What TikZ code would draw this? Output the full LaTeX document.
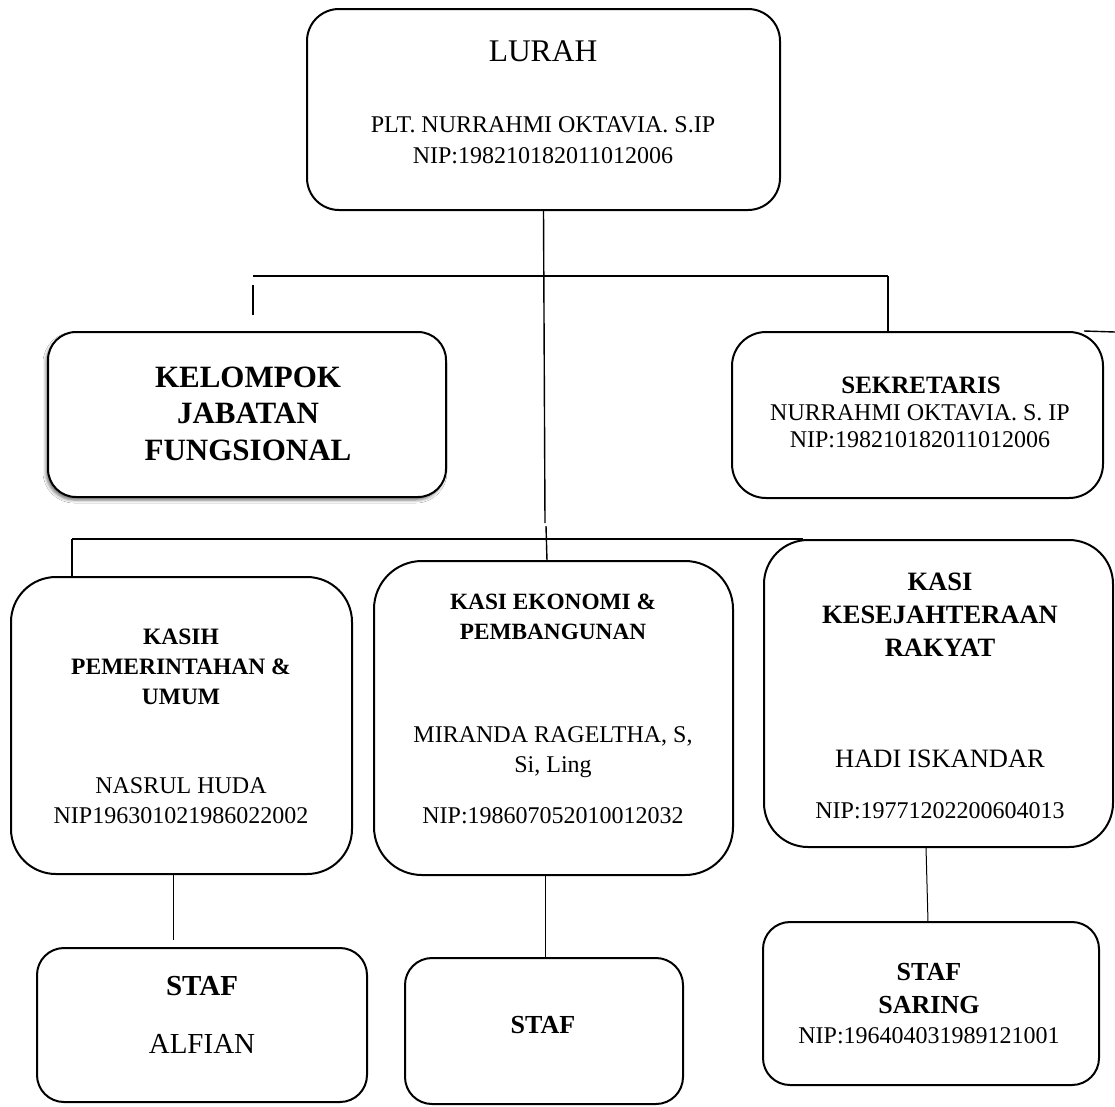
\documentclass[tikz,border=0pt]{standalone}
\usepackage{fontspec}
\setmainfont{Liberation Serif}
\usetikzlibrary{shadows,shadows.blur,calc}
\newcommand\myfs[1]{\fontsize{#1pt}{#1pt}\selectfont}
\begin{document}
\begin{tikzpicture}[x=1pt,y=-1pt,
  box/.style={draw=black, line width=2pt, fill=white, rounded corners=#1, inner sep=0pt},
  conn/.style={draw=black, line width=1.4pt},
  thinconn/.style={draw=black, line width=1pt},
  tr/.style={anchor=base, inner sep=0pt, font=\myfs{#1}},
  tb/.style={anchor=base, inner sep=0pt, font=\myfs{#1}\bfseries}]
\fill[white] (0,0) rectangle (1115,1106);
\useasboundingbox (0,0) rectangle (1115,1106);

% ---------- boxes ----------
\node[box=32, minimum width=473pt, minimum height=201pt] (lurah) at (543.5,109.5) {};
\node[box=28, minimum width=398pt, minimum height=165pt,
      blur shadow={shadow xshift=-2pt, shadow yshift=-3pt, shadow blur radius=3pt, shadow opacity=55}]
      (kelompok) at (247,414.5) {};
\node[box=34, minimum width=371pt, minimum height=166pt] (sekretaris) at (917.5,415) {};
\node[box=45, minimum width=341pt, minimum height=297pt] (kasih) at (181.5,725.5) {};
\node[box=48, minimum width=359pt, minimum height=314pt] (ekonomi) at (553.5,718) {};
\node[box=44, minimum width=349pt, minimum height=307pt] (kesra) at (938.5,693.5) {};
\node[box=27, minimum width=330pt, minimum height=154pt] (staf1) at (202,1025) {};
\node[box=27, minimum width=278pt, minimum height=146pt] (staf2) at (544,1031) {};
\node[box=27, minimum width=336pt, minimum height=163pt] (staf3) at (931,1003.5) {};

% ---------- texts ----------
\node[tr=31.5] (lurahA) at (543,61) {LURAH};
\node[tr=24] (lurahB) at (543,132) {PLT. NURRAHMI OKTAVIA. S.IP};
\node[tr=24] (lurahC) at (543,163) {NIP:198210182011012006};

\node[tb=31] (kelA) at (248,387) {KELOMPOK};
\node[tb=31] (kelB) at (248,423.5) {JABATAN};
\node[tb=31] (kelC) at (248,460) {FUNGSIONAL};

\node[tb=25] (sekA) at (921,393) {SEKRETARIS};
\node[tr=24] (sekB) at (920,420) {NURRAHMI OKTAVIA. S. IP};
\node[tr=24] (sekC) at (920,447) {NIP:198210182011012006};

\node[tb=23.5] (kasA) at (181,644) {KASIH};
\node[tb=23.5] (kasB) at (181,674) {PEMERINTAHAN \&};
\node[tb=23.5] (kasC) at (181,704) {UMUM};
\node[tr=24] (kasD) at (181,793) {NASRUL HUDA};
\node[tr=24] (kasE) at (181,823) {NIP196301021986022002};

\node[tb=23.3] (ekoA) at (553,609) {KASI EKONOMI \&};
\node[tb=23.3] (ekoB) at (553,639) {PEMBANGUNAN};
\node[tr=24] (ekoC) at (553,742) {MIRANDA RAGELTHA, S,};
\node[tr=24] (ekoD) at (553,772) {Si, Ling};
\node[tr=24] (ekoE) at (553,823) {NIP:198607052010012032};

\node[tb=26.5] (kesA) at (940,590) {KASI};
\node[tb=26.5] (kesB) at (940,623) {KESEJAHTERAAN};
\node[tb=26.5] (kesC) at (940,656.5) {RAKYAT};
\node[tr=26.5] (kesD) at (940,767) {HADI ISKANDAR};
\node[tr=24] (kesE) at (940,818) {NIP:19771202200604013};

\node[tb=29] (s1A) at (202,995) {STAF};
\node[tr=29] (s1B) at (202,1053) {ALFIAN};

\node[tb=26] (s2A) at (543,1033) {STAF};

\node[tb=26] (s3A) at (929,980) {STAF};
\node[tb=26] (s3B) at (929,1013) {SARING};
\node[tr=24] (s3C) at (929,1043) {NIP:196404031989121001};

% ---------- connector points ----------
\coordinate (vTopEnd) at (545,523);
\coordinate (hL) at (253,276);
\coordinate (hR) at (888,276);
\coordinate (stubA) at (253,285);
\coordinate (stubB) at (253,315);
\coordinate (rEnd) at (1115,332);
\coordinate (vMid) at (546,526);
\coordinate (ekoIn) at (547,561);
\coordinate (h2L) at (72,539);
\coordinate (h2R) at (803,539);
\coordinate (k1Out) at (173,874);
\coordinate (k1End) at (173,940);
\coordinate (k2Out) at (545,875);
\coordinate (k3Out) at (926,847);
\coordinate (k3In) at (928,922);

% ---------- connectors ----------
\draw[conn] (lurah.south) -- (vTopEnd);
\draw[conn] (hL) -- (hR);
\draw[conn] (stubA) -- (stubB);
\draw[conn] (hR) -- (hR |- sekretaris.north);
\draw[conn] ($(sekretaris.north east)+(-20,0)$) -- (rEnd);
\draw[conn] (vMid) -- (ekoIn);
\draw[conn] (h2L) -- (h2R);
\draw[conn] (h2L) -- (h2L |- kasih.north);
\draw[thinconn] (k1Out) -- (k1End);
\draw[thinconn] (k2Out) -- (k2Out |- staf2.north);
\draw[thinconn] (k3Out) -- (k3In);
\end{tikzpicture}
\end{document}
